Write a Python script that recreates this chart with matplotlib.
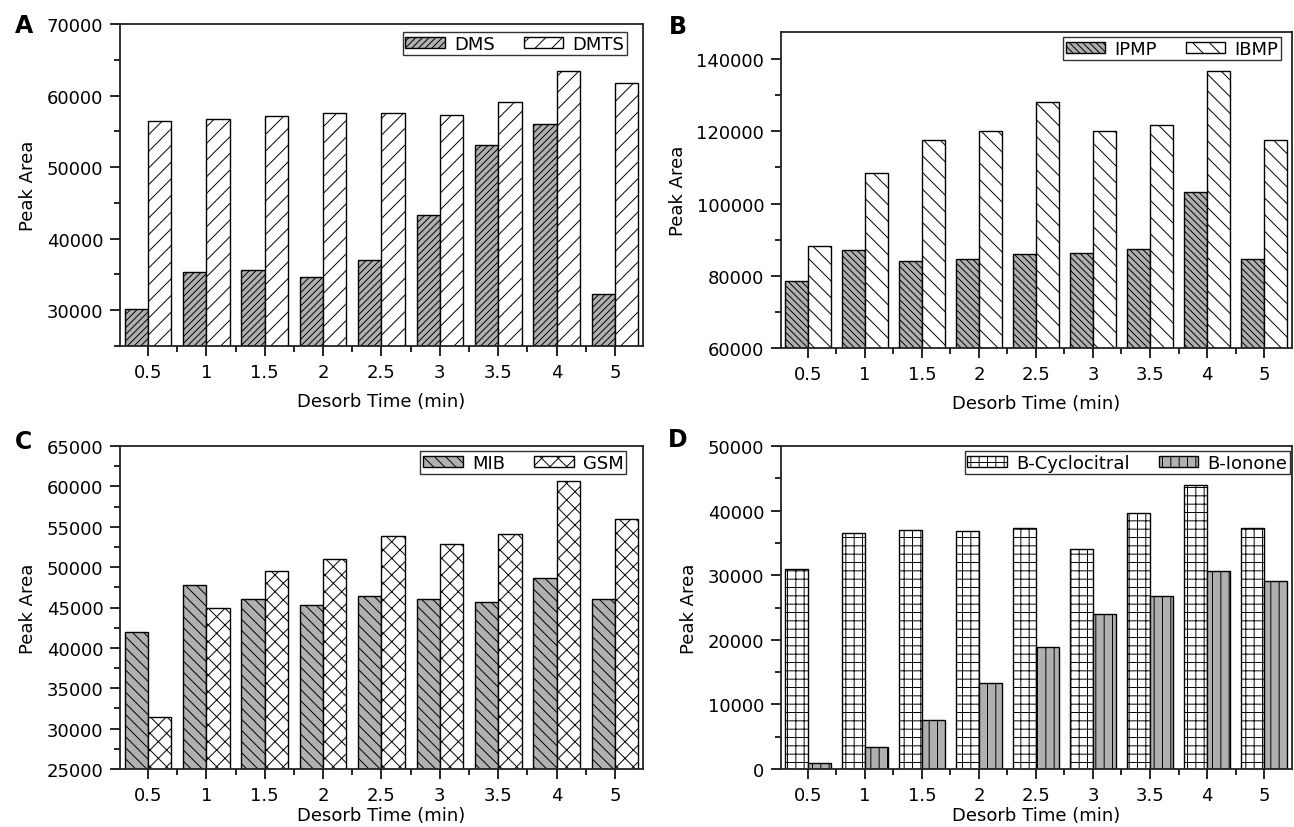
import matplotlib
matplotlib.use("Agg")
import matplotlib.pyplot as plt
import numpy as np
from matplotlib.ticker import MultipleLocator

plt.rcParams['font.family'] = ['DejaVu Sans']
plt.rcParams['hatch.linewidth'] = 0.7

times = ["0.5", "1", "1.5", "2", "2.5", "3", "3.5", "4", "5"]

dms = [30200, 35400, 35600, 34700, 37000, 43300, 53100, 56000, 32200]
dmts = [56400, 56700, 57100, 57500, 57600, 57300, 59100, 63500, 61700]

ipmp = [78500, 87000, 84000, 84700, 86000, 86300, 87500, 103200, 84600]
ibmp = [88200, 108500, 117500, 120000, 128200, 120000, 121700, 136800, 117500]

mib = [42000, 47800, 46100, 45300, 46400, 46100, 45700, 48600, 46100]
gsm = [31500, 44900, 49500, 51000, 53800, 52900, 54100, 60700, 56000]

cyclocitral = [30900, 36500, 37000, 36800, 37300, 34100, 39600, 44000, 37300]
ionone = [900, 3400, 7600, 13300, 18900, 24000, 26800, 30600, 29100]

W, H = 1294, 828
fig = plt.figure(figsize=(W / 100, H / 100), dpi=100)

def rect(l, t, r, b):
    return [l / W, 1 - b / H, (r - l) / W, (b - t) / H]

GRAY = '#b0b0b0'
FS = 13

panels = [
    dict(px=(120, 25, 643, 347), letter='A', lpos=(24, 26), legpx=(627, 33), xpad=8,
         s1=dms, s2=dmts, n1='DMS', n2='DMTS',
         st1=dict(facecolor=GRAY, hatch='/////'), st2=dict(facecolor='white', hatch='//'),
         ylim=(25000, 70000), major=10000, minor=5000, xlim=(-0.48, 8.48)),
    dict(px=(781, 33, 1292, 349), letter='B', lpos=(678, 27), legpx=(1281, 38), xpad=8,
         s1=ipmp, s2=ibmp, n1='IPMP', n2='IBMP',
         st1=dict(facecolor=GRAY, hatch='\\\\\\\\\\'), st2=dict(facecolor='white', hatch='\\\\'),
         ylim=(60000, 147500), major=20000, minor=10000, xlim=(-0.47, 8.49)),
    dict(px=(120, 447, 643, 770), letter='C', lpos=(24, 442), legpx=(626, 452), xpad=2,
         s1=mib, s2=gsm, n1='MIB', n2='GSM',
         st1=dict(facecolor=GRAY, hatch='\\\\\\'), st2=dict(facecolor='white', hatch='xx'),
         ylim=(25000, 65000), major=5000, minor=2500, xlim=(-0.48, 8.48)),
    dict(px=(781, 447, 1292, 770), letter='D', lpos=(678, 440), legpx=(1290, 452), xpad=2,
         s1=cyclocitral, s2=ionone, n1='B-Cyclocitral', n2='B-Ionone',
         st1=dict(facecolor='white', hatch='++'), st2=dict(facecolor=GRAY, hatch='||'),
         ylim=(0, 50000), major=10000, minor=5000, xlim=(-0.47, 8.49)),
]

x = np.arange(len(times))
bw = 0.4
for p in panels:
    l, t, r, b = p['px']
    ax = fig.add_axes(rect(l, t, r, b))
    ax.bar(x - bw / 2, p['s1'], width=bw, edgecolor='black', linewidth=1.0,
           label=p['n1'], **p['st1'])
    ax.bar(x + bw / 2, p['s2'], width=bw, edgecolor='black', linewidth=1.0,
           label=p['n2'], **p['st2'])
    ax.set_xlim(*p['xlim'])
    ax.set_ylim(*p['ylim'])
    ax.set_xticks(x)
    ax.set_xticklabels(times)
    ax.set_xticks(x[:-1] + 0.5, minor=True)
    ax.yaxis.set_major_locator(MultipleLocator(p['major']))
    ax.yaxis.set_minor_locator(MultipleLocator(p['minor']))
    ax.tick_params(axis='both', which='major', direction='out', length=7, width=1.2,
                   labelsize=FS, pad=5)
    ax.tick_params(axis='both', which='minor', direction='out', length=4, width=1.2)
    for s in ax.spines.values():
        s.set_linewidth(1.3)
        s.set_color('#222222')
    ax.set_xlabel('Desorb Time (min)', fontsize=FS, labelpad=p['xpad'])
    ax.set_ylabel('Peak Area', fontsize=FS, labelpad=7)
    lx, ly = p['legpx']
    anchor = ((lx - l) / (r - l), (b - ly) / (b - t))
    leg = ax.legend(loc='upper right', bbox_to_anchor=anchor, ncol=2,
                    fontsize=FS, frameon=True, fancybox=False, framealpha=1,
                    edgecolor='#333333', handlelength=2.2, handleheight=0.6,
                    columnspacing=1.6, handletextpad=0.5, borderpad=0.15,
                    borderaxespad=0.0)
    leg.get_frame().set_linewidth(1.0)
    fig.text(p['lpos'][0] / W, 1 - p['lpos'][1] / H, p['letter'], fontsize=17,
             fontweight='bold', ha='center', va='center')

fig.savefig('out.png', dpi=100)
